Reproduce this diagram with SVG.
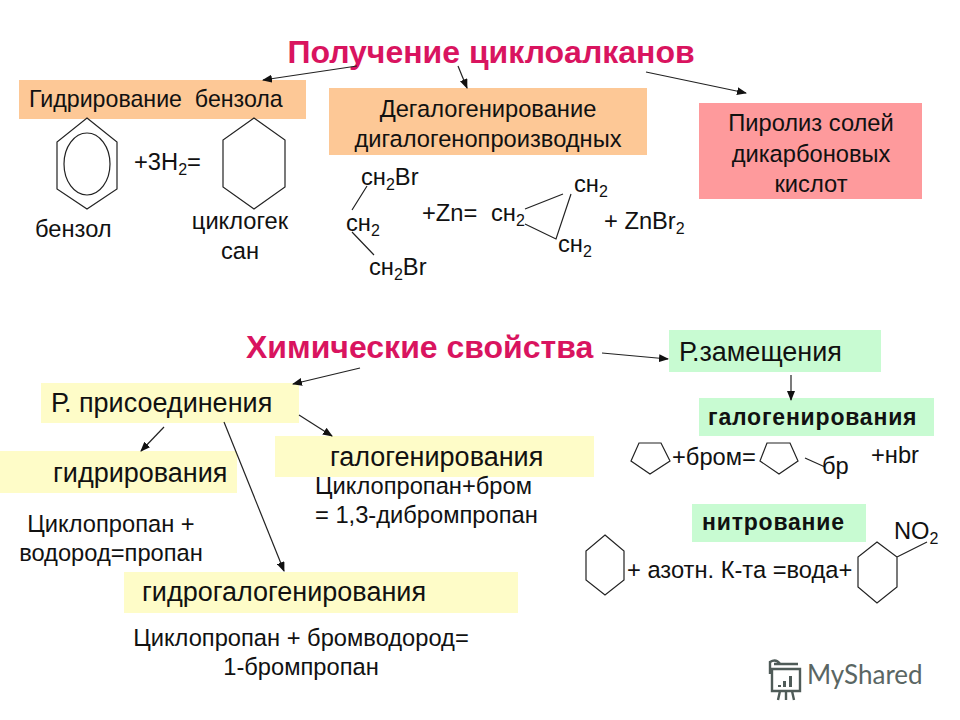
<svg xmlns="http://www.w3.org/2000/svg" width="960" height="720" viewBox="0 0 960 720">
<style>
text{font-family:"Liberation Sans",Arial,sans-serif;fill:#111}
.t{font-size:27px}.s{font-size:23.7px}.m{font-size:23.7px}
.c{text-anchor:middle}
.h{font-size:32px;font-weight:bold;fill:#d9145f}
.b{font-size:23px;font-weight:bold;letter-spacing:.8px}
.sub{font-size:16px}
.ln{fill:none;stroke:#222;stroke-width:1.2}
.ar{fill:none;stroke:#222;stroke-width:1.2;marker-end:url(#a)}
.or{fill:#fdc896}.gr{fill:#c8fbd2}.ye{fill:#fefcc8}
</style>
<defs><marker id="a" markerWidth="10" markerHeight="8" refX="9" refY="4" orient="auto" markerUnits="userSpaceOnUse"><path d="M0 0L10 4L0 8z" fill="#111"/></marker></defs>
<rect width="960" height="720" fill="#fff"/>
<g id="title1"><text class="h c" x="491" y="63">Получение циклоалканов</text></g>
<g id="node-hydro"><rect class="or" x="19" y="80" width="287" height="39"/><text class="s" x="29" y="107" xml:space="preserve" style="font-size:23.2px">Гидрирование  бензола</text></g>
<g id="node-dehal"><rect class="or" x="329" y="88" width="318" height="67"/><text class="s c" x="488" y="117">Дегалогенирование</text><text class="s c" x="488" y="147">дигалогенопроизводных</text></g>
<g id="node-pyro"><rect x="699" y="103" width="223" height="96" fill="#fe9a9c"/><text class="s c" x="811" y="131">Пиролиз солей</text><text class="s c" x="811" y="162">дикарбоновых</text><text class="s c" x="811" y="192">кислот</text></g>
<g id="benzene"><path class="ln" d="M87 118L117 142V189L87 209L57 189V142Z"/><ellipse class="ln" cx="87" cy="164" rx="23" ry="31"/><text class="s" x="35" y="237">бензол</text></g>
<g id="eq1"><text class="s" x="134" y="170">+3H<tspan class="sub" dy="5">2</tspan><tspan dy="-5">=</tspan></text></g>
<g id="cyclohexane"><path class="ln" d="M254 118L285 140V187L254 209L223 187V140Z"/><text class="s c" x="240" y="229">циклогек</text><text class="s c" x="240" y="259">сан</text></g>
<g id="dibromo"><text class="s" x="361" y="185">сн<tspan class="sub" dy="5">2</tspan><tspan dy="-5">Br</tspan></text><text class="s" x="346" y="231">сн<tspan class="sub" dy="5">2</tspan></text><text class="s" x="369" y="275">сн<tspan class="sub" dy="5">2</tspan><tspan dy="-5">Br</tspan></text><path class="ln" d="M367 186L352 210M352 232L374 255"/></g>
<g id="eq2"><text class="s" x="422" y="221">+Zn=</text></g>
<g id="cyclopropane"><text class="s" x="491" y="221">сн<tspan class="sub" dy="5">2</tspan></text><text class="s" x="574" y="192">сн<tspan class="sub" dy="5">2</tspan></text><text class="s" x="558" y="252">сн<tspan class="sub" dy="5">2</tspan></text><path class="ln" d="M525 209L563 194M525 224L556 239L571 194"/></g>
<g id="eq3"><text class="s" x="604" y="229">+ ZnBr<tspan class="sub" dy="5">2</tspan></text></g>
<g id="title2"><text class="h" x="246" y="358">Химические свойства</text></g>
<g id="node-add"><rect class="ye" x="41" y="383" width="258" height="40"/><text class="t" x="51" y="412">Р. присоединения</text></g>
<g id="node-hyd"><rect class="ye" x="0" y="451" width="237" height="42"/><text class="t" x="53" y="482">гидрирования</text></g>
<g id="node-hal"><rect class="ye" x="275" y="436" width="319" height="41"/><text class="t" x="330" y="466">галогенирования</text></g>
<g id="node-hh"><rect class="ye" x="124" y="572" width="394" height="41"/><text class="t" x="142" y="601">гидрогалогенирования</text></g>
<g id="txt-a"><text class="m c" x="111" y="532">Циклопропан +</text><text class="m c" x="111" y="561">водород=пропан</text></g>
<g id="txt-b"><text class="m" x="315" y="494">Циклопропан+бром</text><text class="m" x="315" y="523">= 1,3-дибромпропан</text></g>
<g id="txt-c"><text class="m c" x="301" y="646">Циклопропан + бромводород=</text><text class="m c" x="301" y="675">1-бромпропан</text></g>
<g id="node-sub"><rect class="gr" x="669" y="330" width="212" height="42"/><text class="t" x="679" y="361">Р.замещения</text></g>
<g id="node-halog"><rect class="gr" x="699" y="398" width="235" height="38"/><text class="b" x="708" y="425">галогенирования</text></g>
<g id="node-nitro"><rect class="gr" x="692" y="504" width="174" height="38"/><text class="b" x="702" y="530">нитрование</text></g>
<g id="pent1"><path class="ln" d="M639 443H661L670 461L650 474L631 461Z"/><text class="m" x="672" y="465">+бром=</text></g>
<g id="pent2"><path class="ln" d="M767 443H790L798 461L779 474L760 461Z"/><path class="ln" d="M805 458L825 467"/><text class="s" x="822" y="474">бр</text><text class="m" x="871" y="463">+нbr</text></g>
<g id="hex1"><path class="ln" d="M605 535L624 551V580L605 595L586 580V551Z"/><text class="m" x="627" y="578">+ азотн. К-та =вода+</text></g>
<g id="hex2"><path class="ln" d="M877 542L897 557V587L877 603L858 587V557ZM897 557L927 542"/><text class="s" x="894" y="539">NO<tspan class="sub" dy="5">2</tspan></text></g>
<g id="connectors">
<path class="ar" d="M357 66L263 80"/><path class="ar" d="M458 66L467 88"/><path class="ar" d="M646 72L746 93"/>
<path class="ar" d="M360 368L293 384"/><path class="ar" d="M602 353L668 359"/><path class="ar" d="M791 375V400"/>
<path class="ar" d="M164 427L141 451"/><path class="ar" d="M299 415L332 436"/><path class="ar" d="M224 422L284 571"/>
</g>
<g id="watermark"><g fill="none" stroke="#4f5b58" stroke-width="2.4"><path d="M774 664H798M772 669H800V691H772ZM780 691L778 700M786 691V700M792 691L794 700"/><path d="M770 674V662Q776 658 780 664"/></g><path d="M778 685h3v2h-3zM783 681h3v6h-3zM789 676h3v11h-3z" fill="#4f5b58"/><text x="807" y="684" style="font-family:Lato,sans-serif;font-size:26px;fill:#5a6663">MyShared</text></g>
</svg>
